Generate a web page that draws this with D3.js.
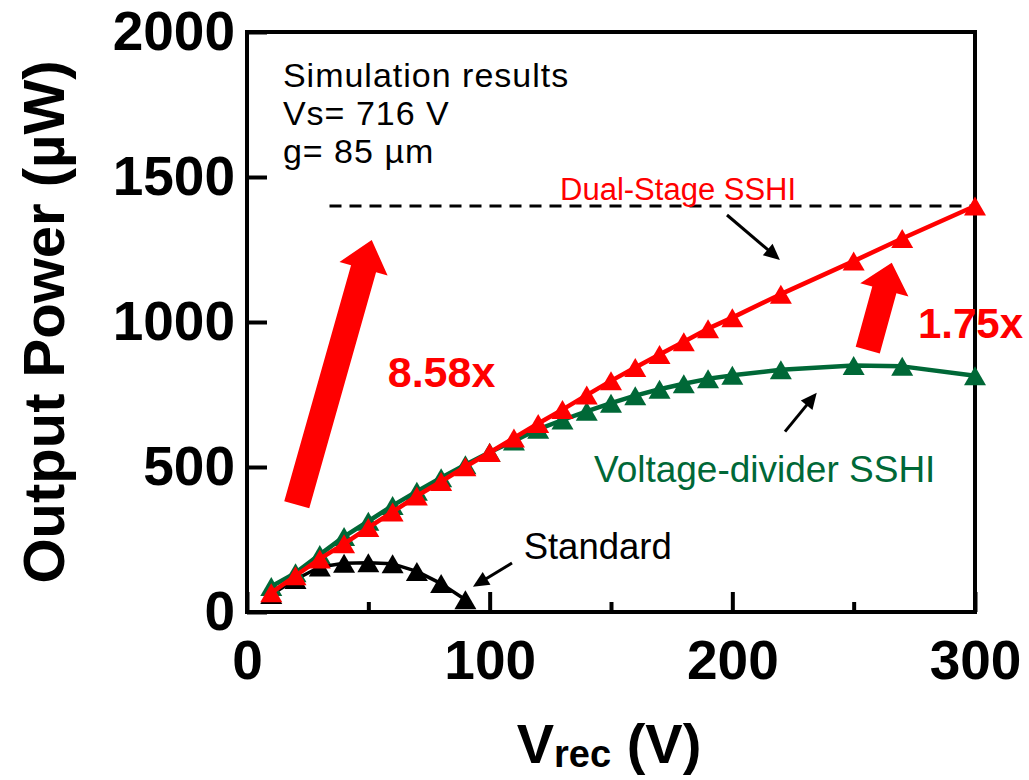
<!DOCTYPE html>
<html>
<head>
<meta charset="utf-8">
<script src="https://cdn.jsdelivr.net/npm/d3@7"></script>
<style>
  body { margin: 0; background: #fff; }
  svg { display: block; }
  text { font-family: "Liberation Sans", Arial, Helvetica, sans-serif; }
</style>
</head>
<body>
<svg id="chart" width="1029" height="780"></svg>
<script>
// Rectified voltage (V) sweep for the SSHI circuits
const vrecSSHI = [10, 20, 30, 40, 50, 60, 70, 80, 90, 100, 110, 120, 130, 140, 150, 160, 170, 180, 190, 200, 220, 250, 270, 300];
// Output power (µW)
const dualStage = [66, 125, 183, 235, 291, 345, 400, 450, 501, 550, 600, 650, 698, 748, 797, 843, 888, 932, 977, 1015, 1096, 1210, 1288, 1400];
const voltageDivider = [88, 135, 198, 260, 313, 367, 416, 463, 508, 551, 590, 630, 662, 692, 720, 746, 768, 787, 804, 816, 835, 850, 847, 815];

// Standard interface
const vrecStandard = [10, 20, 30, 40, 50, 60, 70, 80, 90];
const standard = [60, 112, 155, 168, 170, 166, 140, 98, 42];

// Axis ticks
const xTicksMajor = [0, 100, 200, 300];
const xTicksMinor = [50, 150, 250];
const yTicks = [0, 500, 1000, 1500, 2000];

// Reference level of the dual-stage maximum
const peakLevel = 1400;

const svg = d3.select("#chart");
const plot = { left: 247, right: 975, top: 32, bottom: 612 };

const x = d3.scaleLinear().domain([0, 300]).range([plot.left, plot.right]);
const y = d3.scaleLinear().domain([0, 2000]).range([plot.bottom, plot.top]);

const RED = "#ff0000", GREEN = "#006837", BLACK = "#000000";

// ---- axes ----
const xMajor = svg.append("g")
  .attr("transform", `translate(0,${plot.bottom})`)
  .call(d3.axisBottom(x).tickValues(xTicksMajor).tickSize(-20).tickPadding(28).tickFormat(d3.format("d")));
const xMinor = svg.append("g")
  .attr("transform", `translate(0,${plot.bottom})`)
  .call(d3.axisBottom(x).tickValues(xTicksMinor).tickSize(-10).tickFormat(""));
const yAxis = svg.append("g")
  .attr("transform", `translate(${plot.left},0)`)
  .call(d3.axisLeft(y).tickValues(yTicks).tickSize(-20).tickPadding(12).tickFormat(d3.format("d")));

[xMajor, xMinor, yAxis].forEach(g => {
  g.select(".domain").remove();
  g.selectAll(".tick line").attr("stroke", BLACK).attr("stroke-width", 4);
  g.selectAll(".tick text")
    .attr("fill", BLACK)
    .style("font-size", "55px")
    .style("font-weight", "bold")
    .style("font-family", "'Liberation Sans', Arial, sans-serif");
});

// plot frame
svg.append("rect")
  .attr("x", plot.left).attr("y", plot.top)
  .attr("width", plot.right - plot.left).attr("height", plot.bottom - plot.top)
  .attr("fill", "none").attr("stroke", BLACK).attr("stroke-width", 4);

// ---- axis titles ----
svg.append("text")
  .attr("transform", `translate(64,${(plot.top + plot.bottom) / 2}) rotate(-90)`)
  .attr("text-anchor", "middle")
  .style("font-size", "58px").style("font-weight", "bold")
  .text("Output Power (µW)");

const xt = svg.append("text")
  .attr("x", (plot.left + plot.right) / 2 - 2)
  .attr("y", 763)
  .attr("text-anchor", "middle")
  .style("font-size", "56px").style("font-weight", "bold");
xt.append("tspan").text("V");
xt.append("tspan").attr("dy", 4).style("font-size", "38px").text("rec");
xt.append("tspan").attr("dy", -4).text(" (V)");

// ---- dashed reference line ----
svg.append("line")
  .attr("x1", x(34)).attr("x2", x(300))
  .attr("y1", y(peakLevel)).attr("y2", y(peakLevel))
  .attr("stroke", BLACK).attr("stroke-width", 3)
  .attr("stroke-dasharray", "12,8");

// ---- series ----
const triW = 22, triH = 19;
const triPath = `M0,${-triH / 2}L${triW / 2},${triH / 2}L${-triW / 2},${triH / 2}Z`;

function drawSeries(xs, ys, color, width) {
  const pts = xs.map((v, i) => [v, ys[i]]);
  const g = svg.append("g");
  g.append("path")
    .datum(pts)
    .attr("d", d3.line().x(d => x(d[0])).y(d => y(d[1])))
    .attr("fill", "none").attr("stroke", color)
    .attr("stroke-width", width).attr("stroke-linejoin", "round");
  g.selectAll("path.mk").data(pts).join("path")
    .attr("class", "mk")
    .attr("d", triPath)
    .attr("transform", d => `translate(${x(d[0])},${y(d[1])})`)
    .attr("fill", color);
}

drawSeries(vrecStandard, standard, BLACK, 3.5);
drawSeries(vrecSSHI, voltageDivider, GREEN, 4.5);
drawSeries(vrecSSHI, dualStage, RED, 4.5);

// ---- block arrows showing the gain ----
function blockArrow(from, to, shaftW, headW, headL, color) {
  const x0 = x(from[0]), y0 = y(from[1]), x1 = x(to[0]), y1 = y(to[1]);
  const dx = x1 - x0, dy = y1 - y0, len = Math.hypot(dx, dy);
  const ux = dx / len, uy = dy / len, px = -uy, py = ux;
  const bx = x1 - ux * headL, by = y1 - uy * headL;
  const p = [
    [x0 + px * shaftW / 2, y0 + py * shaftW / 2],
    [bx + px * shaftW / 2, by + py * shaftW / 2],
    [bx + px * headW / 2, by + py * headW / 2],
    [x1, y1],
    [bx - px * headW / 2, by - py * headW / 2],
    [bx - px * shaftW / 2, by - py * shaftW / 2],
    [x0 - px * shaftW / 2, y0 - py * shaftW / 2]
  ];
  svg.append("path").attr("d", "M" + p.map(q => q.join(",")).join("L") + "Z").attr("fill", color);
}

blockArrow([20.5, 370], [51.4, 1283], 26, 50, 30, RED);
blockArrow([255.8, 903], [265.7, 1204], 25, 50, 28, RED);

// ---- small pointer arrows ----
function pointer(from, to) {
  const x0 = x(from[0]), y0 = y(from[1]), x1 = x(to[0]), y1 = y(to[1]);
  const dx = x1 - x0, dy = y1 - y0, len = Math.hypot(dx, dy);
  const ux = dx / len, uy = dy / len, px = -uy, py = ux;
  const hl = 16, hw = 15;
  const bx = x1 - ux * hl, by = y1 - uy * hl;
  svg.append("line")
    .attr("x1", x0).attr("y1", y0).attr("x2", bx + ux * 2).attr("y2", by + uy * 2)
    .attr("stroke", BLACK).attr("stroke-width", 3);
  svg.append("path")
    .attr("d", `M${x1},${y1}L${bx + px * hw / 2},${by + py * hw / 2}L${bx - px * hw / 2},${by - py * hw / 2}Z`)
    .attr("fill", BLACK);
}

pointer([197.8, 1369], [219.6, 1214]);
pointer([221.7, 622], [234.8, 756]);
pointer([109.2, 169], [93.1, 87]);

// ---- labels ----
function label(txt, at, color, size, weight) {
  return svg.append("text")
    .attr("x", x(at[0])).attr("y", y(at[1]))
    .attr("fill", color)
    .style("font-size", size + "px")
    .style("font-weight", weight)
    .text(txt);
}

label("Dual-Stage SSHI", [129, 1421], RED, 31, "normal");
label("Voltage-divider SSHI", [143, 447], GREEN, 37, "normal");
label("Standard", [114, 183], BLACK, 36.5, "normal");
label("8.58x", [58, 775], RED, 43, "bold");
label("1.75x", [276.5, 945], RED, 42, "bold");

// simulation conditions, one text per line
const notes = ["Simulation results", "Vs= 716 V", "g= 85 µm"];
notes.forEach((s, i) => {
  svg.append("text")
    .attr("x", x(14.8))
    .attr("y", y(1810) + i * 38)
    .style("font-size", "34px")
    .style("letter-spacing", "1px")
    .text(s);
});
</script>
</body>
</html>
